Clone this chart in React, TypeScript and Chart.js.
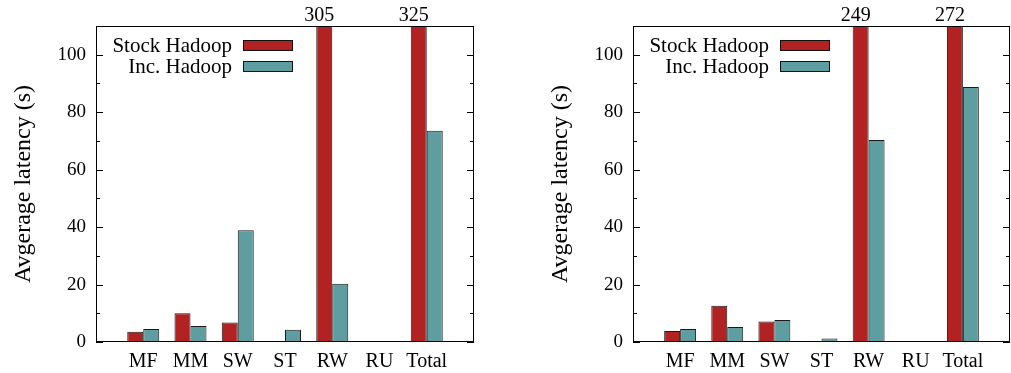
import React, { useEffect, useRef } from "react";
import { Chart, registerables } from "chart.js";

Chart.register(...registerables);

// Workload categories on the x axis
const categories = ["MF", "MM", "SW", "ST", "RW", "RU", "Total"];
const seriesNames = ["Stock Hadoop", "Inc. Hadoop"];

// Average latency (s), first configuration
const leftStock = [3.6, 10.0, 6.75, 0.2, 305, 0, 325];
const leftInc = [4.5, 5.6, 38.9, 4.3, 20.3, 0, 73.5];

// Average latency (s), second configuration
const rightStock = [3.8, 12.6, 7.1, 0.35, 249, 0, 272];
const rightInc = [4.5, 5.2, 7.7, 1.2, 70.3, 0, 88.8];

const yMajorTicks = [0, 20, 40, 60, 80, 100];
const yMinorTicks = [10, 30, 50, 70, 90];
const yMax = 110;

const yTitle = "Avgerage latency (s)";
const colors = ["#B22222", "#5F9EA0"];
const FONT = '"Liberation Serif", "DejaVu Serif", "Times New Roman", serif';

// Empty slot on each side so the groups sit on the interior grid positions
const xLabels = ["", ...categories, ""];
const pad = (arr: number[]) => [null, ...arr, null];

const framePlugin = {
  id: "gnuFrame",
  afterDatasetsDraw(chart: any) {
    const { ctx, chartArea } = chart;
    const yScale = chart.scales.y;
    const { left, right, top, bottom } = chartArea;
    ctx.save();
    ctx.strokeStyle = "#000";
    ctx.lineWidth = 1;
    ctx.strokeRect(left + 0.5, top + 0.5, right - left - 1, bottom - top - 1);

    // inward ticks on both vertical edges
    const drawTick = (v: number, len: number) => {
      const y = Math.round(yScale.getPixelForValue(v)) + 0.5;
      ctx.beginPath();
      ctx.moveTo(left, y);
      ctx.lineTo(left + len, y);
      ctx.moveTo(right, y);
      ctx.lineTo(right - len, y);
      ctx.stroke();
    };
    yMajorTicks.forEach((v) => drawTick(v, 7));
    yMinorTicks.forEach((v) => drawTick(v, 4));

    // values of bars that run past the top of the axis
    ctx.fillStyle = "#000";
    ctx.font = `20px ${FONT}`;
    ctx.textAlign = "center";
    ctx.textBaseline = "alphabetic";
    const meta = chart.getDatasetMeta(0);
    const data = chart.data.datasets[0].data as (number | null)[];
    data.forEach((v, i) => {
      if (v != null && v > yMax) {
        const bar = meta.data[i];
        ctx.fillText(String(v), bar.x - 5, top - 5);
      }
    });

    // key: label text to the left of a wide swatch
    ctx.font = `21px ${FONT}`;
    ctx.textAlign = "right";
    ctx.textBaseline = "middle";
    chart.data.datasets.forEach((ds: any, i: number) => {
      const cy = top + 19 + i * 21;
      ctx.fillStyle = "#000";
      ctx.fillText(ds.label, left + 136, cy + 1);
      ctx.fillStyle = ds.backgroundColor;
      ctx.fillRect(left + 147, cy - 5, 50, 11);
      ctx.strokeStyle = "#111";
      ctx.strokeRect(left + 147.5, cy - 5 + 0.5, 49, 10);
    });
    ctx.restore();
  },
};

function BarPanel({
  stock,
  inc,
  width,
  plotRight,
}: {
  stock: number[];
  inc: number[];
  width: number;
  plotRight: number;
}) {
  const ref = useRef<HTMLCanvasElement>(null);
  useEffect(() => {
    const canvas = ref.current;
    if (!canvas) return;
    const chart = new Chart(canvas, {
      type: "bar",
      data: {
        labels: xLabels,
        datasets: [
          {
            label: seriesNames[0],
            data: pad(stock),
            backgroundColor: colors[0],
            borderColor: "#1a1a1a",
            borderWidth: 1,
            borderSkipped: false,
          },
          {
            label: seriesNames[1],
            data: pad(inc),
            backgroundColor: colors[1],
            borderColor: "#1a1a1a",
            borderWidth: 1,
            borderSkipped: false,
          },
        ],
      },
      options: {
        responsive: false,
        animation: false,
        devicePixelRatio: 1,
        layout: { padding: { left: 0, right: width - plotRight, top: 26, bottom: 0 } },
        datasets: { bar: { categoryPercentage: 0.677, barPercentage: 1 } },
        plugins: { legend: { display: false }, tooltip: { enabled: false } },
        scales: {
          x: {
            type: "category",
            offset: false,
            grid: { display: false, drawTicks: false },
            border: { display: false },
            ticks: {
              autoSkip: false,
              maxRotation: 0,
              padding: 8,
              color: "#000",
              font: { family: FONT, size: 20 },
            },
            afterFit: (s: any) => {
              s.height = 31;
              s.paddingLeft = 0;
              s.paddingRight = 0;
            },
          },
          y: {
            min: 0,
            max: yMax,
            grid: { display: false, drawTicks: false },
            border: { display: false },
            afterBuildTicks: (s: any) => {
              s.ticks = yMajorTicks.map((v) => ({ value: v }));
            },
            ticks: {
              padding: 10,
              color: "#000",
              font: { family: FONT, size: 19 },
            },
            title: {
              display: true,
              text: yTitle,
              color: "#000",
              font: { family: FONT, size: 24 },
              padding: { top: 9, bottom: 0 },
            },
            afterFit: (s: any) => {
              s.width = 96;
            },
          },
        },
      },
      plugins: [framePlugin],
    });
    return () => chart.destroy();
  }, [stock, inc, width, plotRight]);
  return <canvas ref={ref} width={width} height={373} style={{ display: "block" }} />;
}

export default function App() {
  return (
    <div style={{ position: "absolute", left: 0, top: 0, width: 1011, height: 373, background: "#fff" }}>
      <div style={{ position: "absolute", left: 0, top: 0 }}>
        <BarPanel stock={leftStock} inc={leftInc} width={480} plotRight={474} />
      </div>
      <div style={{ position: "absolute", left: 537, top: 0 }}>
        <BarPanel stock={rightStock} inc={rightInc} width={474} plotRight={473} />
      </div>
    </div>
  );
}
